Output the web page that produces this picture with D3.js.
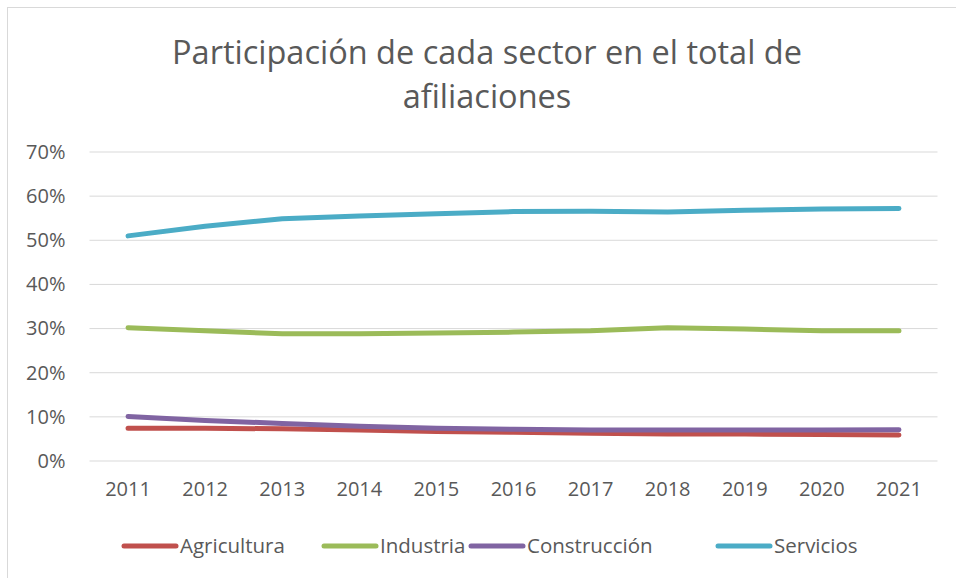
<!DOCTYPE html>
<html>
<head>
<meta charset="utf-8">
<script src="https://cdn.jsdelivr.net/npm/d3@7"></script>
<style>
  body { margin: 0; background: #fff; }
  text { font-family: "Open Sans", sans-serif; fill: #595959; }
</style>
</head>
<body>
<div id="chart"></div>
<script>
const years = ["2011","2012","2013","2014","2015","2016","2017","2018","2019","2020","2021"];
const agricultura  = [7.4, 7.4, 7.3, 7.0, 6.7, 6.5, 6.3, 6.1, 6.1, 6.0, 5.9];
const industria    = [30.2, 29.5, 28.8, 28.8, 29.0, 29.2, 29.5, 30.2, 29.9, 29.5, 29.5];
const construccion = [10.1, 9.2, 8.5, 7.9, 7.4, 7.2, 7.0, 7.0, 7.0, 7.0, 7.1];
const servicios    = [51.0, 53.2, 54.9, 55.5, 56.0, 56.5, 56.6, 56.4, 56.8, 57.1, 57.2];
const yTicks = [0, 10, 20, 30, 40, 50, 60, 70];

const series = [
  {name: "Agricultura", values: agricultura, color: "#c0504d"},
  {name: "Industria", values: industria, color: "#9bbb59"},
  {name: "Construcción", values: construccion, color: "#8064a2"},
  {name: "Servicios", values: servicios, color: "#4bacc6"}
];

const width = 956, height = 578;
const svg = d3.select("#chart").append("svg")
    .attr("width", width)
    .attr("height", height);

// chart area border
svg.append("rect")
    .attr("x", 7.5).attr("y", 7.5)
    .attr("width", width).attr("height", height)
    .attr("fill", "none")
    .attr("stroke", "#d9d9d9");

svg.append("text")
    .attr("x", 487).attr("y", 64)
    .attr("text-anchor", "middle")
    .style("font-size", "32.5px")
    .text("Participación de cada sector en el total de");
svg.append("text")
    .attr("x", 487).attr("y", 108)
    .attr("text-anchor", "middle")
    .style("font-size", "32.5px")
    .text("afiliaciones");

const x = d3.scaleBand().domain(years).range([89.5, 937.5]);
const y = d3.scaleLinear().domain([0, 70]).range([461, 152]);

const grid = svg.append("g");
grid.selectAll("line")
    .data(yTicks)
    .enter()
    .append("line")
    .attr("x1", 89.5).attr("x2", 937.5)
    .attr("y1", d => y(d)).attr("y2", d => y(d))
    .attr("stroke", "#d9d9d9")
    .attr("stroke-width", 1);

const yAxis = svg.append("g")
    .attr("transform", "translate(89.5,0)")
    .call(d3.axisLeft(y).tickValues(yTicks).tickSize(0).tickPadding(24).tickFormat(d => d + "%"));
yAxis.select(".domain").remove();
yAxis.selectAll("text").style("font-size", "20px").attr("fill", "#595959");

const xAxis = svg.append("g")
    .attr("transform", "translate(0,461)")
    .call(d3.axisBottom(x).tickSize(0).tickPadding(21));
xAxis.select(".domain").remove();
xAxis.selectAll("text").style("font-size", "20px").attr("fill", "#595959");

const line = d3.line()
    .x((d, i) => x(years[i]) + x.bandwidth() / 2)
    .y(d => y(d));

svg.selectAll(".serie")
    .data(series)
    .enter()
    .append("path")
    .attr("class", "serie")
    .attr("d", d => line(d.values))
    .attr("fill", "none")
    .attr("stroke", d => d.color)
    .attr("stroke-width", 5)
    .attr("stroke-linecap", "round")
    .attr("stroke-linejoin", "round");

const legendX = [122, 322, 469, 716];
const legend = svg.selectAll(".legend")
    .data(series)
    .enter()
    .append("g")
    .attr("class", "legend")
    .attr("transform", (d, i) => `translate(${legendX[i]},546)`);
legend.append("line")
    .attr("x1", 2).attr("x2", 54)
    .attr("stroke", d => d.color)
    .attr("stroke-width", 5)
    .attr("stroke-linecap", "round");
legend.append("text")
    .attr("x", 58).attr("y", 7)
    .style("font-size", "20.5px")
    .text(d => d.name);
</script>
</body>
</html>
